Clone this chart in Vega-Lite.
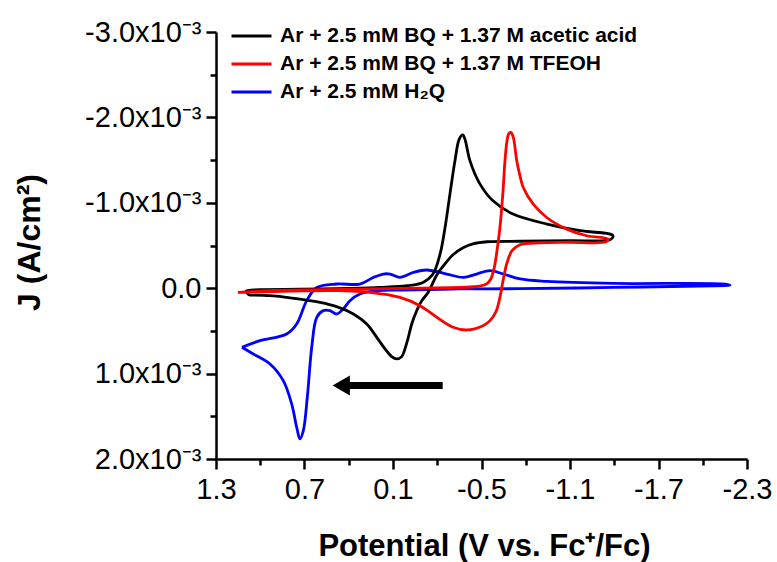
{
  "$schema": "https://vega.github.io/schema/vega-lite/v6.json",
  "width": 531,
  "height": 427,
  "autosize": {"type": "none"},
  "padding": {"left": 216, "top": 32, "right": 30, "bottom": 103},
  "background": "white",
  "config": {
    "view": {"stroke": null},
    "font": "Liberation Sans",
    "axis": {"labelFont": "Liberation Sans", "titleFont": "Liberation Sans", "labelColor": "black", "titleColor": "black", "domainColor": "black", "tickColor": "black", "grid": false}
  },
  "datasets": {
    "cv": [
      {"s": "Ar + 2.5 mM H₂Q", "i": 1, "E": 1.124, "J": 0.000692},
      {"s": "Ar + 2.5 mM H₂Q", "i": 2, "E": 1.047, "J": 0.000770},
      {"s": "Ar + 2.5 mM H₂Q", "i": 3, "E": 0.934, "J": 0.000887},
      {"s": "Ar + 2.5 mM H₂Q", "i": 4, "E": 0.844, "J": 0.001082},
      {"s": "Ar + 2.5 mM H₂Q", "i": 5, "E": 0.787, "J": 0.001354},
      {"s": "Ar + 2.5 mM H₂Q", "i": 6, "E": 0.753, "J": 0.001628},
      {"s": "Ar + 2.5 mM H₂Q", "i": 7, "E": 0.731, "J": 0.001764},
      {"s": "Ar + 2.5 mM H₂Q", "i": 8, "E": 0.708, "J": 0.001667},
      {"s": "Ar + 2.5 mM H₂Q", "i": 9, "E": 0.681, "J": 0.001277},
      {"s": "Ar + 2.5 mM H₂Q", "i": 10, "E": 0.651, "J": 0.000692},
      {"s": "Ar + 2.5 mM H₂Q", "i": 11, "E": 0.617, "J": 0.000342},
      {"s": "Ar + 2.5 mM H₂Q", "i": 12, "E": 0.573, "J": 0.000263},
      {"s": "Ar + 2.5 mM H₂Q", "i": 13, "E": 0.527, "J": 0.000263},
      {"s": "Ar + 2.5 mM H₂Q", "i": 14, "E": 0.482, "J": 0.000302},
      {"s": "Ar + 2.5 mM H₂Q", "i": 15, "E": 0.437, "J": 0.000243},
      {"s": "Ar + 2.5 mM H₂Q", "i": 16, "E": 0.392, "J": 0.000146},
      {"s": "Ar + 2.5 mM H₂Q", "i": 17, "E": 0.324, "J": 0.000068},
      {"s": "Ar + 2.5 mM H₂Q", "i": 18, "E": 0.210, "J": 0.000029},
      {"s": "Ar + 2.5 mM H₂Q", "i": 19, "E": 0.030, "J": 0.000021},
      {"s": "Ar + 2.5 mM H₂Q", "i": 20, "E": -0.354, "J": 0.000009},
      {"s": "Ar + 2.5 mM H₂Q", "i": 21, "E": -0.761, "J": 0.000006},
      {"s": "Ar + 2.5 mM H₂Q", "i": 22, "E": -1.392, "J": -0.000009},
      {"s": "Ar + 2.5 mM H₂Q", "i": 23, "E": -1.981, "J": -0.000026},
      {"s": "Ar + 2.5 mM H₂Q", "i": 24, "E": -2.185, "J": -0.000035},
      {"s": "Ar + 2.5 mM H₂Q", "i": 25, "E": -2.151, "J": -0.000049},
      {"s": "Ar + 2.5 mM H₂Q", "i": 26, "E": -1.394, "J": -0.000056},
      {"s": "Ar + 2.5 mM H₂Q", "i": 27, "E": -0.942, "J": -0.000080},
      {"s": "Ar + 2.5 mM H₂Q", "i": 28, "E": -0.761, "J": -0.000108},
      {"s": "Ar + 2.5 mM H₂Q", "i": 29, "E": -0.648, "J": -0.000166},
      {"s": "Ar + 2.5 mM H₂Q", "i": 30, "E": -0.558, "J": -0.000205},
      {"s": "Ar + 2.5 mM H₂Q", "i": 31, "E": -0.467, "J": -0.000166},
      {"s": "Ar + 2.5 mM H₂Q", "i": 32, "E": -0.377, "J": -0.000126},
      {"s": "Ar + 2.5 mM H₂Q", "i": 33, "E": -0.264, "J": -0.000166},
      {"s": "Ar + 2.5 mM H₂Q", "i": 34, "E": -0.128, "J": -0.000213},
      {"s": "Ar + 2.5 mM H₂Q", "i": 35, "E": -0.038, "J": -0.000185},
      {"s": "Ar + 2.5 mM H₂Q", "i": 36, "E": 0.053, "J": -0.000126},
      {"s": "Ar + 2.5 mM H₂Q", "i": 37, "E": 0.120, "J": -0.000166},
      {"s": "Ar + 2.5 mM H₂Q", "i": 38, "E": 0.166, "J": -0.000166},
      {"s": "Ar + 2.5 mM H₂Q", "i": 39, "E": 0.234, "J": -0.000126},
      {"s": "Ar + 2.5 mM H₂Q", "i": 40, "E": 0.324, "J": -0.000049},
      {"s": "Ar + 2.5 mM H₂Q", "i": 41, "E": 0.482, "J": -0.000049},
      {"s": "Ar + 2.5 mM H₂Q", "i": 42, "E": 0.617, "J": -0.000009},
      {"s": "Ar + 2.5 mM H₂Q", "i": 43, "E": 0.685, "J": 0.000146},
      {"s": "Ar + 2.5 mM H₂Q", "i": 44, "E": 0.753, "J": 0.000419},
      {"s": "Ar + 2.5 mM H₂Q", "i": 45, "E": 0.821, "J": 0.000536},
      {"s": "Ar + 2.5 mM H₂Q", "i": 46, "E": 1.002, "J": 0.000614},
      {"s": "Ar + 2.5 mM H₂Q", "i": 47, "E": 1.124, "J": 0.000692},

      {"s": "Ar + 2.5 mM BQ + 1.37 M acetic acid", "i": 1, "E": 1.074, "J": 0.000080},
      {"s": "Ar + 2.5 mM BQ + 1.37 M acetic acid", "i": 2, "E": 0.934, "J": 0.000088},
      {"s": "Ar + 2.5 mM BQ + 1.37 M acetic acid", "i": 3, "E": 0.821, "J": 0.000108},
      {"s": "Ar + 2.5 mM BQ + 1.37 M acetic acid", "i": 4, "E": 0.708, "J": 0.000135},
      {"s": "Ar + 2.5 mM BQ + 1.37 M acetic acid", "i": 5, "E": 0.595, "J": 0.000166},
      {"s": "Ar + 2.5 mM BQ + 1.37 M acetic acid", "i": 6, "E": 0.482, "J": 0.000216},
      {"s": "Ar + 2.5 mM BQ + 1.37 M acetic acid", "i": 7, "E": 0.369, "J": 0.000302},
      {"s": "Ar + 2.5 mM BQ + 1.37 M acetic acid", "i": 8, "E": 0.278, "J": 0.000419},
      {"s": "Ar + 2.5 mM BQ + 1.37 M acetic acid", "i": 9, "E": 0.210, "J": 0.000575},
      {"s": "Ar + 2.5 mM BQ + 1.37 M acetic acid", "i": 10, "E": 0.154, "J": 0.000711},
      {"s": "Ar + 2.5 mM BQ + 1.37 M acetic acid", "i": 11, "E": 0.109, "J": 0.000801},
      {"s": "Ar + 2.5 mM BQ + 1.37 M acetic acid", "i": 12, "E": 0.075, "J": 0.000828},
      {"s": "Ar + 2.5 mM BQ + 1.37 M acetic acid", "i": 13, "E": 0.041, "J": 0.000801},
      {"s": "Ar + 2.5 mM BQ + 1.37 M acetic acid", "i": 14, "E": 0.019, "J": 0.000711},
      {"s": "Ar + 2.5 mM BQ + 1.37 M acetic acid", "i": 15, "E": -0.004, "J": 0.000575},
      {"s": "Ar + 2.5 mM BQ + 1.37 M acetic acid", "i": 16, "E": -0.027, "J": 0.000419},
      {"s": "Ar + 2.5 mM BQ + 1.37 M acetic acid", "i": 17, "E": -0.061, "J": 0.000263},
      {"s": "Ar + 2.5 mM BQ + 1.37 M acetic acid", "i": 18, "E": -0.095, "J": 0.000146},
      {"s": "Ar + 2.5 mM BQ + 1.37 M acetic acid", "i": 19, "E": -0.137, "J": 0.000053},
      {"s": "Ar + 2.5 mM BQ + 1.37 M acetic acid", "i": 20, "E": -0.198, "J": -0.000158},
      {"s": "Ar + 2.5 mM BQ + 1.37 M acetic acid", "i": 21, "E": -0.253, "J": -0.000287},
      {"s": "Ar + 2.5 mM BQ + 1.37 M acetic acid", "i": 22, "E": -0.307, "J": -0.000392},
      {"s": "Ar + 2.5 mM BQ + 1.37 M acetic acid", "i": 23, "E": -0.375, "J": -0.000474},
      {"s": "Ar + 2.5 mM BQ + 1.37 M acetic acid", "i": 24, "E": -0.442, "J": -0.000520},
      {"s": "Ar + 2.5 mM BQ + 1.37 M acetic acid", "i": 25, "E": -0.537, "J": -0.000544},
      {"s": "Ar + 2.5 mM BQ + 1.37 M acetic acid", "i": 26, "E": -0.761, "J": -0.000550},
      {"s": "Ar + 2.5 mM BQ + 1.37 M acetic acid", "i": 27, "E": -1.100, "J": -0.000556},
      {"s": "Ar + 2.5 mM BQ + 1.37 M acetic acid", "i": 28, "E": -1.371, "J": -0.000567},
      {"s": "Ar + 2.5 mM BQ + 1.37 M acetic acid", "i": 29, "E": -1.392, "J": -0.000602},
      {"s": "Ar + 2.5 mM BQ + 1.37 M acetic acid", "i": 30, "E": -1.385, "J": -0.000626},
      {"s": "Ar + 2.5 mM BQ + 1.37 M acetic acid", "i": 31, "E": -1.168, "J": -0.000673},
      {"s": "Ar + 2.5 mM BQ + 1.37 M acetic acid", "i": 32, "E": -0.944, "J": -0.000751},
      {"s": "Ar + 2.5 mM BQ + 1.37 M acetic acid", "i": 33, "E": -0.714, "J": -0.000868},
      {"s": "Ar + 2.5 mM BQ + 1.37 M acetic acid", "i": 34, "E": -0.578, "J": -0.001023},
      {"s": "Ar + 2.5 mM BQ + 1.37 M acetic acid", "i": 35, "E": -0.490, "J": -0.001219},
      {"s": "Ar + 2.5 mM BQ + 1.37 M acetic acid", "i": 36, "E": -0.422, "J": -0.001491},
      {"s": "Ar + 2.5 mM BQ + 1.37 M acetic acid", "i": 37, "E": -0.388, "J": -0.001745},
      {"s": "Ar + 2.5 mM BQ + 1.37 M acetic acid", "i": 38, "E": -0.373, "J": -0.001795},
      {"s": "Ar + 2.5 mM BQ + 1.37 M acetic acid", "i": 39, "E": -0.349, "J": -0.001745},
      {"s": "Ar + 2.5 mM BQ + 1.37 M acetic acid", "i": 40, "E": -0.320, "J": -0.001491},
      {"s": "Ar + 2.5 mM BQ + 1.37 M acetic acid", "i": 41, "E": -0.286, "J": -0.001102},
      {"s": "Ar + 2.5 mM BQ + 1.37 M acetic acid", "i": 42, "E": -0.253, "J": -0.000711},
      {"s": "Ar + 2.5 mM BQ + 1.37 M acetic acid", "i": 43, "E": -0.219, "J": -0.000400},
      {"s": "Ar + 2.5 mM BQ + 1.37 M acetic acid", "i": 44, "E": -0.171, "J": -0.000166},
      {"s": "Ar + 2.5 mM BQ + 1.37 M acetic acid", "i": 45, "E": -0.103, "J": -0.000068},
      {"s": "Ar + 2.5 mM BQ + 1.37 M acetic acid", "i": 46, "E": 0.005, "J": -0.000029},
      {"s": "Ar + 2.5 mM BQ + 1.37 M acetic acid", "i": 47, "E": 0.188, "J": -0.000009},
      {"s": "Ar + 2.5 mM BQ + 1.37 M acetic acid", "i": 48, "E": 0.392, "J": 0.000002},
      {"s": "Ar + 2.5 mM BQ + 1.37 M acetic acid", "i": 49, "E": 0.731, "J": 0.000012},
      {"s": "Ar + 2.5 mM BQ + 1.37 M acetic acid", "i": 50, "E": 1.002, "J": 0.000018},
      {"s": "Ar + 2.5 mM BQ + 1.37 M acetic acid", "i": 51, "E": 1.097, "J": 0.000035},
      {"s": "Ar + 2.5 mM BQ + 1.37 M acetic acid", "i": 52, "E": 1.074, "J": 0.000080},

      {"s": "Ar + 2.5 mM BQ + 1.37 M TFEOH", "i": 1, "E": 1.151, "J": 0.000049},
      {"s": "Ar + 2.5 mM BQ + 1.37 M TFEOH", "i": 2, "E": 0.934, "J": 0.000029},
      {"s": "Ar + 2.5 mM BQ + 1.37 M TFEOH", "i": 3, "E": 0.595, "J": 0.000018},
      {"s": "Ar + 2.5 mM BQ + 1.37 M TFEOH", "i": 4, "E": 0.256, "J": 0.000009},
      {"s": "Ar + 2.5 mM BQ + 1.37 M TFEOH", "i": 5, "E": -0.083, "J": -0.000002},
      {"s": "Ar + 2.5 mM BQ + 1.37 M TFEOH", "i": 6, "E": -0.354, "J": -0.000009},
      {"s": "Ar + 2.5 mM BQ + 1.37 M TFEOH", "i": 7, "E": -0.490, "J": -0.000023},
      {"s": "Ar + 2.5 mM BQ + 1.37 M TFEOH", "i": 8, "E": -0.537, "J": -0.000053},
      {"s": "Ar + 2.5 mM BQ + 1.37 M TFEOH", "i": 9, "E": -0.564, "J": -0.000111},
      {"s": "Ar + 2.5 mM BQ + 1.37 M TFEOH", "i": 10, "E": -0.585, "J": -0.000228},
      {"s": "Ar + 2.5 mM BQ + 1.37 M TFEOH", "i": 11, "E": -0.605, "J": -0.000439},
      {"s": "Ar + 2.5 mM BQ + 1.37 M TFEOH", "i": 12, "E": -0.625, "J": -0.000711},
      {"s": "Ar + 2.5 mM BQ + 1.37 M TFEOH", "i": 13, "E": -0.646, "J": -0.001140},
      {"s": "Ar + 2.5 mM BQ + 1.37 M TFEOH", "i": 14, "E": -0.659, "J": -0.001491},
      {"s": "Ar + 2.5 mM BQ + 1.37 M TFEOH", "i": 15, "E": -0.673, "J": -0.001725},
      {"s": "Ar + 2.5 mM BQ + 1.37 M TFEOH", "i": 16, "E": -0.686, "J": -0.001813},
      {"s": "Ar + 2.5 mM BQ + 1.37 M TFEOH", "i": 17, "E": -0.700, "J": -0.001822},
      {"s": "Ar + 2.5 mM BQ + 1.37 M TFEOH", "i": 18, "E": -0.716, "J": -0.001764},
      {"s": "Ar + 2.5 mM BQ + 1.37 M TFEOH", "i": 19, "E": -0.739, "J": -0.001491},
      {"s": "Ar + 2.5 mM BQ + 1.37 M TFEOH", "i": 20, "E": -0.761, "J": -0.001316},
      {"s": "Ar + 2.5 mM BQ + 1.37 M TFEOH", "i": 21, "E": -0.783, "J": -0.001179},
      {"s": "Ar + 2.5 mM BQ + 1.37 M TFEOH", "i": 22, "E": -0.851, "J": -0.000985},
      {"s": "Ar + 2.5 mM BQ + 1.37 M TFEOH", "i": 23, "E": -0.942, "J": -0.000828},
      {"s": "Ar + 2.5 mM BQ + 1.37 M TFEOH", "i": 24, "E": -1.078, "J": -0.000692},
      {"s": "Ar + 2.5 mM BQ + 1.37 M TFEOH", "i": 25, "E": -1.213, "J": -0.000614},
      {"s": "Ar + 2.5 mM BQ + 1.37 M TFEOH", "i": 26, "E": -1.358, "J": -0.000575},
      {"s": "Ar + 2.5 mM BQ + 1.37 M TFEOH", "i": 27, "E": -1.344, "J": -0.000544},
      {"s": "Ar + 2.5 mM BQ + 1.37 M TFEOH", "i": 28, "E": -1.100, "J": -0.000538},
      {"s": "Ar + 2.5 mM BQ + 1.37 M TFEOH", "i": 29, "E": -0.897, "J": -0.000532},
      {"s": "Ar + 2.5 mM BQ + 1.37 M TFEOH", "i": 30, "E": -0.761, "J": -0.000509},
      {"s": "Ar + 2.5 mM BQ + 1.37 M TFEOH", "i": 31, "E": -0.707, "J": -0.000439},
      {"s": "Ar + 2.5 mM BQ + 1.37 M TFEOH", "i": 32, "E": -0.673, "J": -0.000298},
      {"s": "Ar + 2.5 mM BQ + 1.37 M TFEOH", "i": 33, "E": -0.646, "J": -0.000088},
      {"s": "Ar + 2.5 mM BQ + 1.37 M TFEOH", "i": 34, "E": -0.625, "J": 0.000108},
      {"s": "Ar + 2.5 mM BQ + 1.37 M TFEOH", "i": 35, "E": -0.598, "J": 0.000275},
      {"s": "Ar + 2.5 mM BQ + 1.37 M TFEOH", "i": 36, "E": -0.558, "J": 0.000380},
      {"s": "Ar + 2.5 mM BQ + 1.37 M TFEOH", "i": 37, "E": -0.510, "J": 0.000439},
      {"s": "Ar + 2.5 mM BQ + 1.37 M TFEOH", "i": 38, "E": -0.402, "J": 0.000489},
      {"s": "Ar + 2.5 mM BQ + 1.37 M TFEOH", "i": 39, "E": -0.307, "J": 0.000458},
      {"s": "Ar + 2.5 mM BQ + 1.37 M TFEOH", "i": 40, "E": -0.198, "J": 0.000342},
      {"s": "Ar + 2.5 mM BQ + 1.37 M TFEOH", "i": 41, "E": -0.083, "J": 0.000205},
      {"s": "Ar + 2.5 mM BQ + 1.37 M TFEOH", "i": 42, "E": 0.053, "J": 0.000108},
      {"s": "Ar + 2.5 mM BQ + 1.37 M TFEOH", "i": 43, "E": 0.256, "J": 0.000049},
      {"s": "Ar + 2.5 mM BQ + 1.37 M TFEOH", "i": 44, "E": 0.480, "J": 0.000029},
      {"s": "Ar + 2.5 mM BQ + 1.37 M TFEOH", "i": 45, "E": 0.798, "J": 0.000035},
      {"s": "Ar + 2.5 mM BQ + 1.37 M TFEOH", "i": 46, "E": 1.103, "J": 0.000047},
      {"s": "Ar + 2.5 mM BQ + 1.37 M TFEOH", "i": 47, "E": 1.151, "J": 0.000049}
    ],
    "arrow": [
      {"from": -0.237, "to": 0.40, "tip": 0.451, "J": 0.00114}
    ]
  },
  "layer": [
    {
      "data": {"name": "cv"},
      "mark": {"type": "line", "strokeWidth": 2.8, "interpolate": "catmull-rom"},
      "encoding": {
        "x": {
          "field": "E", "type": "quantitative",
          "scale": {"domain": [-2.3, 1.3], "reverse": true, "nice": false, "zero": false},
          "axis": {
            "orient": "bottom",
            "values": [1.3, 0.7, 0.1, -0.5, -1.1, -1.7, -2.3],
            "labelExpr": "(datum.value < 0 ? '-' : '') + format(abs(datum.value), '.1f')",
            "labelFontSize": 29, "labelPadding": 6, "labelFlush": false, "labelOverlap": false,
            "tickSize": 10, "tickWidth": 2.5, "domainWidth": 2.5,
            "title": "Potential (V vs. Fc⁺/Fc)",
            "titleFontSize": 31, "titleFontWeight": "bold",
            "titleX": 268, "titleY": 96, "titleAlign": "center", "titleBaseline": "alphabetic"
          }
        },
        "y": {
          "field": "J", "type": "quantitative",
          "scale": {"domain": [-0.003, 0.002], "reverse": true, "nice": false, "zero": false},
          "axis": {
            "orient": "left",
            "values": [-0.003, -0.002, -0.001, 0, 0.001, 0.002],
            "labelExpr": "datum.value == 0 ? '0.0' : (datum.value < 0 ? '-' : '') + format(abs(datum.value) * 1000, '.1f') + 'x10⁻³'",
            "labelFontSize": 29, "labelPadding": 5, "labelFlush": false, "labelOverlap": false,
            "tickSize": 10, "tickWidth": 2.5, "domainWidth": 2.5,
            "title": "J (A/cm²)",
            "titleFontSize": 32, "titleFontWeight": "bold",
            "titleAngle": -90, "titleX": -187, "titleY": 210, "titleAlign": "center", "titleBaseline": "middle"
          }
        },
        "color": {
          "field": "s", "type": "nominal",
          "scale": {
            "domain": ["Ar + 2.5 mM BQ + 1.37 M acetic acid", "Ar + 2.5 mM BQ + 1.37 M TFEOH", "Ar + 2.5 mM H₂Q"],
            "range": ["#000000", "#ff0000", "#0000ff"]
          },
          "legend": {
            "orient": "none", "legendX": 14, "legendY": -10, "title": null,
            "symbolType": "stroke", "symbolSize": 1600, "symbolStrokeWidth": 3,
            "labelFont": "Liberation Sans", "labelFontSize": 21, "labelFontWeight": "bold", "labelColor": "black",
            "labelOffset": 7, "labelLimit": 700, "rowPadding": 0, "clipHeight": 28, "padding": 0
          }
        },
        "detail": {"field": "s"},
        "order": {"field": "i", "type": "quantitative"}
      }
    },
    {
      "data": {"name": "cv"},
      "mark": {"type": "point", "opacity": 0},
      "encoding": {
        "x": {
          "field": "E", "type": "quantitative",
          "axis": {"orient": "bottom", "values": [1.0, 0.4, -0.2, -0.8, -1.4, -2.0], "labels": false, "domain": false, "tickSize": 6, "tickWidth": 2.5, "title": null}
        },
        "y": {
          "field": "J", "type": "quantitative",
          "axis": {"orient": "left", "values": [-0.0025, -0.0015, -0.0005, 0.0005, 0.0015], "labels": false, "domain": false, "tickSize": 6, "tickWidth": 2.5, "title": null}
        }
      }
    },
    {
      "data": {"name": "arrow"},
      "mark": {"type": "rule", "strokeWidth": 7, "color": "black", "strokeCap": "butt"},
      "encoding": {
        "x": {"field": "from", "type": "quantitative", "axis": null},
        "x2": {"field": "to"},
        "y": {"field": "J", "type": "quantitative", "axis": null}
      }
    },
    {
      "data": {"name": "arrow"},
      "mark": {"type": "point", "shape": "triangle-left", "size": 400, "filled": true, "color": "black", "opacity": 1},
      "encoding": {
        "x": {"field": "tip", "type": "quantitative", "axis": null},
        "y": {"field": "J", "type": "quantitative", "axis": null}
      }
    }
  ],
  "resolve": {"axis": {"x": "independent", "y": "independent"}}
}
